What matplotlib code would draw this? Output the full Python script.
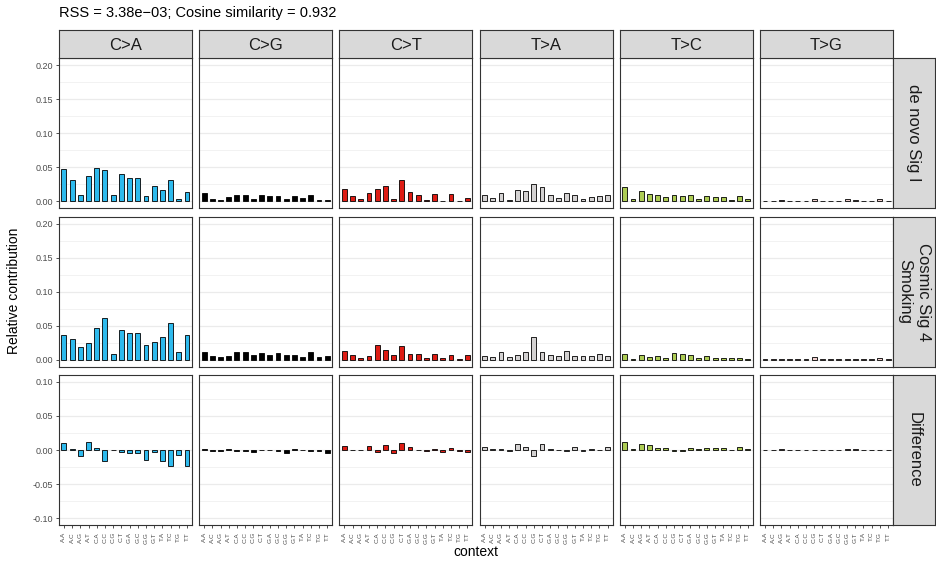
import numpy as np
import matplotlib
matplotlib.use("Agg")
import matplotlib.pyplot as plt
from matplotlib.ticker import MultipleLocator, FormatStrFormatter

plt.rcParams['font.family'] = ['Liberation Sans', 'DejaVu Sans']
plt.rcParams['axes.unicode_minus'] = True

# ---- data ----
sub_types = ["C>A", "C>G", "C>T", "T>A", "T>C", "T>G"]
type_colors = ["#2EBAED", "#000000", "#DE1C14", "#D4D2D2", "#ADCC54", "#F0D0CE"]
contexts = ["A.A", "A.C", "A.G", "A.T", "C.A", "C.C", "C.G", "C.T",
            "G.A", "G.C", "G.G", "G.T", "T.A", "T.C", "T.G", "T.T"]
row_labels = ["de novo Sig I", "Cosmic Sig 4\nSmoking", "Difference"]

denovo_sig = [
    # C>A
    0.048, 0.032, 0.010, 0.037, 0.0495, 0.046, 0.0094, 0.041,
    0.035, 0.035, 0.0074, 0.023, 0.017, 0.031, 0.004, 0.014,
    # C>G
    0.012, 0.004, 0.0025, 0.007, 0.010, 0.0094, 0.004, 0.0094,
    0.0084, 0.008, 0.003, 0.0084, 0.0045, 0.0094, 0.0025, 0.0015,
    # C>T
    0.018, 0.008, 0.004, 0.013, 0.019, 0.022, 0.004, 0.031,
    0.014, 0.009, 0.0015, 0.011, 0.0005, 0.011, 0.0003, 0.0055,
    # T>A
    0.009, 0.0055, 0.012, 0.002, 0.017, 0.015, 0.025, 0.021,
    0.009, 0.0055, 0.012, 0.0094, 0.004, 0.0064, 0.0084, 0.009,
    # T>C
    0.021, 0.003, 0.016, 0.011, 0.0094, 0.006, 0.0094, 0.0074,
    0.0094, 0.004, 0.008, 0.006, 0.0064, 0.0025, 0.0074, 0.004,
    # T>G
    0.0008, 0.001, 0.0025, 0.001, 0.001, 0.001, 0.0035, 0.001,
    0.001, 0.001, 0.003, 0.002, 0.001, 0.001, 0.0035, 0.0008,
]

cosmic_sig = [
    # C>A
    0.037, 0.031, 0.0186, 0.025, 0.0466, 0.062, 0.0093, 0.0436,
    0.0387, 0.040, 0.0225, 0.026, 0.033, 0.054, 0.011, 0.037,
    # C>G
    0.011, 0.006, 0.004, 0.006, 0.011, 0.011, 0.007, 0.0098,
    0.0078, 0.0098, 0.007, 0.007, 0.0044, 0.011, 0.004, 0.0054,
    # C>T
    0.0127, 0.0078, 0.0034, 0.0064, 0.0216, 0.015, 0.0078, 0.0206,
    0.0093, 0.0083, 0.003, 0.0093, 0.0034, 0.0074, 0.0015, 0.0078,
    # T>A
    0.005, 0.004, 0.011, 0.004, 0.0078, 0.011, 0.034, 0.012,
    0.007, 0.006, 0.0137, 0.005, 0.005, 0.005, 0.0083, 0.005,
    # T>C
    0.0088, 0.002, 0.0078, 0.004, 0.006, 0.003, 0.0103, 0.0083,
    0.007, 0.003, 0.005, 0.003, 0.003, 0.0025, 0.003, 0.002,
    # T>G
    0.0008, 0.001, 0.0012, 0.0015, 0.001, 0.0012, 0.0035, 0.001,
    0.001, 0.0012, 0.0018, 0.001, 0.001, 0.001, 0.003, 0.001,
]

rss_text = "RSS = 3.38e\u221203; Cosine similarity = 0.932"

denovo = np.array(denovo_sig).reshape(6, 16)
cosmic = np.array(cosmic_sig).reshape(6, 16)
rows = [denovo, cosmic, denovo - cosmic]

# ---- layout (pixels) ----
W, H = 937, 565
fig = plt.figure(figsize=(W / 100, H / 100), dpi=100)


def rect(x0, y0, x1, y1):
    return [x0 / W, 1 - y1 / H, (x1 - x0) / W, (y1 - y0) / H]


left, right, gap = 59, 893, 7.3
pw = (right - left - 5 * gap) / 6
col_x = [left + i * (pw + gap) for i in range(6)]
row_y = [58.3, 216.7, 375.0]
ph = 150
border = "#333333"
grid_c = "#EBEBEB"

for r in range(3):
    for c in range(6):
        x0 = col_x[c]
        y0 = row_y[r]
        ax = fig.add_axes(rect(x0, y0, x0 + pw, y0 + ph))
        ax.bar(np.arange(16), rows[r][c], width=0.6, color=type_colors[c],
               edgecolor="black", linewidth=0.6, zorder=3)
        ax.set_xlim(-0.6, 15.6)
        if r < 2:
            ax.set_ylim(-0.01, 0.21)
        else:
            ax.set_ylim(-0.11, 0.11)
        ax.yaxis.set_major_locator(MultipleLocator(0.05))
        ax.yaxis.set_minor_locator(MultipleLocator(0.025))
        ax.yaxis.set_major_formatter(FormatStrFormatter("%.2f"))
        ax.grid(axis="y", which="major", color=grid_c, lw=0.9, zorder=0)
        ax.grid(axis="y", which="minor", color=grid_c, lw=0.45, zorder=0)
        ax.set_axisbelow(True)
        for s in ax.spines.values():
            s.set_color(border)
            s.set_linewidth(0.8)
        ax.tick_params(axis="y", which="minor", length=0)
        ax.tick_params(axis="both", which="major", length=2.5, width=0.6,
                       color=border, labelcolor="#4D4D4D", labelsize=6.5, pad=1.5)
        if c != 0:
            ax.tick_params(axis="y", which="both", left=False, labelleft=False)
        ax.set_xticks(np.arange(16))
        if r == 2:
            ax.set_xticklabels(contexts, rotation=90, fontsize=4.6)
            ax.tick_params(axis="x", pad=2.5)
        else:
            ax.tick_params(axis="x", bottom=False, labelbottom=False)

        # top strips
        if r == 0:
            sax = fig.add_axes(rect(x0, 30, x0 + pw, 58.3))
            sax.set_facecolor("#D9D9D9")
            sax.set_xticks([])
            sax.set_yticks([])
            for s in sax.spines.values():
                s.set_color(border)
                s.set_linewidth(0.8)
            sax.text(0.5, 0.45, sub_types[c], ha="center", va="center",
                     fontsize=12, color="#1A1A1A", transform=sax.transAxes)

    # right strips
    y0 = row_y[r]
    sax = fig.add_axes(rect(893, y0, 935, y0 + ph))
    sax.set_facecolor("#D9D9D9")
    sax.set_xticks([])
    sax.set_yticks([])
    for s in sax.spines.values():
        s.set_color(border)
        s.set_linewidth(0.8)
    sax.text(0.5, 0.5, row_labels[r], ha="center", va="center", rotation=270,
             fontsize=12, color="#1A1A1A", linespacing=1.3,
             transform=sax.transAxes)

fig.text(59 / W, 1 - 13.5 / H, rss_text, ha="left", va="center",
         fontsize=10.5, color="black")
fig.text(14 / W, 1 - 291 / H, "Relative contribution", rotation=90,
         ha="center", va="center", fontsize=10)
fig.text(476 / W, 1 - 552 / H, "context", ha="center", va="center",
         fontsize=10)

fig.savefig("out.png", dpi=100)
